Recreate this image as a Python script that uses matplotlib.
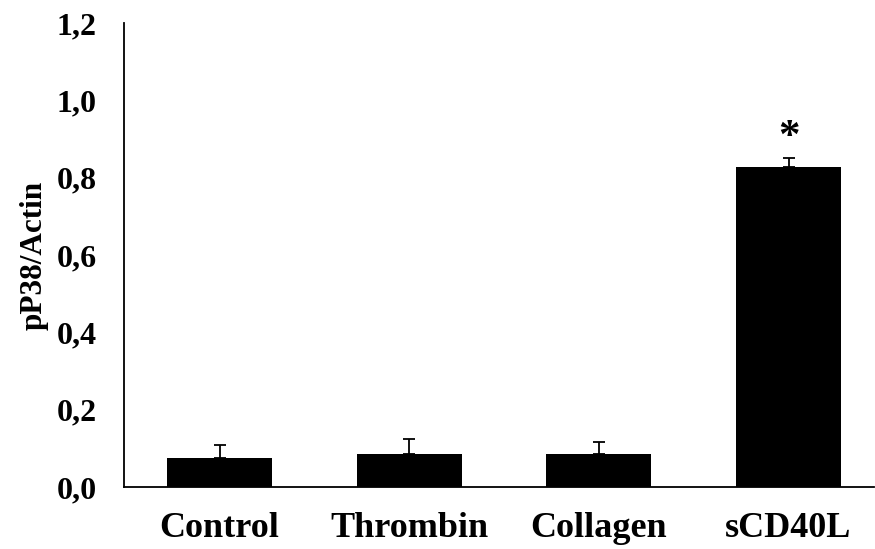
import matplotlib
matplotlib.use("Agg")
import matplotlib.pyplot as plt
import numpy as np

groups = ["Control", "Thrombin", "Collagen", "sCD40L"]
means = [0.074, 0.085, 0.084, 0.827]
sems = [0.035, 0.038, 0.033, 0.023]
marks = ["", "", "", "*"]
yticks = [0.0, 0.2, 0.4, 0.6, 0.8, 1.0, 1.2]

plt.rcParams["font.family"] = ["Liberation Serif", "DejaVu Serif"]
plt.rcParams["font.weight"] = "bold"

fig = plt.figure(figsize=(8.75, 5.49), dpi=100)
ax = fig.add_axes([0.1417, 0.113, 0.857, 0.845])

x = np.arange(len(groups))
# error bars sit behind the bars so only the upper half shows
ax.errorbar(x, means, yerr=[np.zeros(len(sems)), sems], fmt="none",
            ecolor="black", elinewidth=1.3, capsize=4.5, capthick=1.3, zorder=1)
ax.bar(x, means, width=0.554, color="black", zorder=2)

# significance star above the error bar
for xi, m, s, t in zip(x, means, sems, marks):
    if t:
        ax.annotate(t, (xi, m + s), xytext=(0, 1), textcoords="offset points",
                    ha="center", va="bottom", fontsize=31, fontweight="bold")

ax.set_xlim(-0.504, 3.45)
ax.set_ylim(0, 1.2)
ax.set_xticks(x)
ax.set_xticklabels(groups, fontsize=26, fontweight="bold")
ax.set_yticks(yticks)
ax.set_yticklabels([f"{v:.1f}".replace(".", ",") for v in yticks],
                   fontsize=23, fontweight="bold")
ax.tick_params(axis="both", length=0)
ax.tick_params(axis="y", pad=19.5)
ax.tick_params(axis="x", pad=18)
ax.set_ylabel("pP38/Actin", fontsize=22.5, fontweight="bold")
ax.yaxis.set_label_coords(-0.101, 0.5)

for side in ["top", "right"]:
    ax.spines[side].set_visible(False)
for side in ["left", "bottom"]:
    ax.spines[side].set_linewidth(1.3)

fig.savefig("out.png", dpi=100)
